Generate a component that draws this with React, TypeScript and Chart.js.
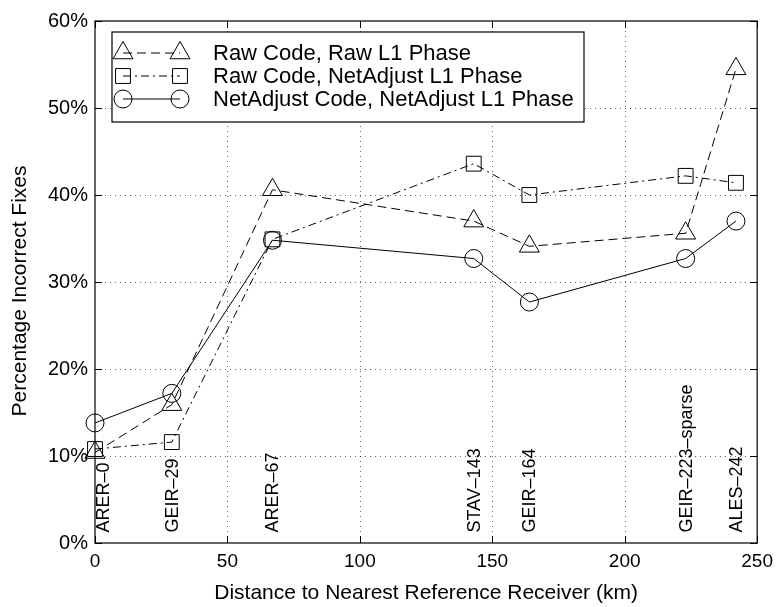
import React, { useEffect, useRef } from "react";
import { Chart, registerables } from "chart.js";
import { drawPoint } from "chart.js/helpers";

Chart.register(...registerables);

// ---- data ----
const distances = [0, 29, 67, 143, 164, 223, 242];
const rawCodeRawPhase = [10.4, 15.9, 40.6, 37.0, 34.1, 35.6, 54.5];
const rawCodeNetPhase = [10.8, 11.6, 34.9, 43.6, 40.0, 42.2, 41.4];
const netCodeNetPhase = [13.8, 17.2, 34.8, 32.7, 27.7, 32.7, 37.0];

const seriesNames = [
  "Raw Code, Raw L1 Phase",
  "Raw Code, NetAdjust L1 Phase",
  "NetAdjust Code, NetAdjust L1 Phase",
];

const stationNames = ["ARER\u20130", "GEIR\u201329", "ARER\u201367", "STAV\u2013143", "GEIR\u2013164", "GEIR\u2013223\u2013sparse", "ALES\u2013242"];
const stationLabelX = [3, 29, 67, 143, 164, 223, 242];
const stationLabelY = 1.2;

const xTicks = [0, 50, 100, 150, 200, 250];
const yTicks = [0, 10, 20, 30, 40, 50, 60];

const xTitle = "Distance to Nearest Reference Receiver (km)";
const yTitle = "Percentage Incorrect Fixes";

const FONT = "'Liberation Sans', Arial, Helvetica, sans-serif";

const styles = [
  { pointStyle: "triangle", radius: 11.5, dash: [9, 5] },
  { pointStyle: "rect", radius: 10.5, dash: [8, 4, 2, 4] },
  { pointStyle: "circle", radius: 9, dash: [] as number[] },
];

const decorPlugin = {
  id: "decor",
  beforeDatasetsDraw(chart: any) {
    const { ctx, chartArea: a, scales } = chart;
    const xs = scales.x;
    const ys = scales.y;
    ctx.save();
    ctx.strokeStyle = "rgba(0,0,0,0.6)";
    ctx.lineWidth = 1;
    ctx.setLineDash([1, 4]);
    for (const v of xTicks) {
      if (v <= xTicks[0] || v >= xTicks[xTicks.length - 1]) continue;
      const px = Math.round(xs.getPixelForValue(v)) + 0.5;
      ctx.beginPath();
      ctx.moveTo(px, a.top);
      ctx.lineTo(px, a.bottom);
      ctx.stroke();
    }
    for (const v of yTicks) {
      if (v <= yTicks[0] || v >= yTicks[yTicks.length - 1]) continue;
      const py = Math.round(ys.getPixelForValue(v)) + 0.5;
      ctx.beginPath();
      ctx.moveTo(a.left, py);
      ctx.lineTo(a.right, py);
      ctx.stroke();
    }
    ctx.restore();
  },
  afterDatasetsDraw(chart: any) {
    const { ctx, chartArea: a, scales } = chart;
    const xs = scales.x;
    const ys = scales.y;
    ctx.save();
    // station labels
    ctx.fillStyle = "#000";
    ctx.font = `18px ${FONT}`;
    ctx.textAlign = "left";
    ctx.textBaseline = "middle";
    stationNames.forEach((name, i) => {
      const px = xs.getPixelForValue(stationLabelX[i]);
      const py = ys.getPixelForValue(stationLabelY);
      ctx.save();
      ctx.translate(px, py);
      ctx.rotate(-Math.PI / 2);
      ctx.fillText(name, 0, 1);
      ctx.restore();
    });

    // y title
    ctx.save();
    ctx.font = `21px ${FONT}`;
    ctx.textAlign = "center";
    ctx.textBaseline = "middle";
    ctx.translate(20, (a.top + a.bottom) / 2 + 9);
    ctx.rotate(-Math.PI / 2);
    ctx.fillText(yTitle, 0, 0);
    ctx.restore();

    // frame
    ctx.strokeStyle = "#000";
    ctx.lineWidth = 1.2;
    ctx.setLineDash([]);
    ctx.strokeRect(a.left, a.top, a.right - a.left, a.bottom - a.top);
    // inward ticks
    const tl = 7;
    ctx.lineWidth = 1;
    for (const v of xTicks) {
      const px = Math.round(xs.getPixelForValue(v)) + 0.5;
      ctx.beginPath();
      ctx.moveTo(px, a.bottom);
      ctx.lineTo(px, a.bottom - tl);
      ctx.moveTo(px, a.top);
      ctx.lineTo(px, a.top + tl);
      ctx.stroke();
    }
    for (const v of yTicks) {
      const py = Math.round(ys.getPixelForValue(v)) + 0.5;
      ctx.beginPath();
      ctx.moveTo(a.left, py);
      ctx.lineTo(a.left + tl, py);
      ctx.moveTo(a.right, py);
      ctx.lineTo(a.right - tl, py);
      ctx.stroke();
    }

    // legend
    const bx = a.left + 17;
    const by = a.top + 11;
    const bw = 472;
    const bh = 90;
    ctx.fillStyle = "#fff";
    ctx.fillRect(bx, by, bw, bh);
    ctx.strokeStyle = "#000";
    ctx.lineWidth = 1.2;
    ctx.strokeRect(bx, by, bw, bh);
    const rowY = [by + 21, by + 44, by + 67];
    const x1 = bx + 11;
    const x2 = bx + 68;
    seriesNames.forEach((name, i) => {
      const st = styles[i];
      const ry = rowY[i];
      ctx.strokeStyle = "#000";
      ctx.lineWidth = 1;
      ctx.setLineDash(st.dash);
      ctx.beginPath();
      ctx.moveTo(x1, ry);
      ctx.lineTo(x2, ry);
      ctx.stroke();
      ctx.setLineDash([]);
      ctx.fillStyle = "rgba(0,0,0,0)";
      for (const mx of [x1, x2]) {
        drawPoint(ctx, { pointStyle: st.pointStyle, radius: st.radius, borderWidth: 1, rotation: 0 } as any, mx, ry);
      }
      ctx.fillStyle = "#000";
      ctx.font = `22px ${FONT}`;
      ctx.textAlign = "left";
      ctx.textBaseline = "middle";
      ctx.fillText(name, bx + 101, ry + 1);
    });
    ctx.restore();
  },
};

export default function App() {
  const ref = useRef<HTMLCanvasElement>(null);
  useEffect(() => {
    if (!ref.current) return;
    const seriesValues = [rawCodeRawPhase, rawCodeNetPhase, netCodeNetPhase];
    const chart = new Chart(ref.current, {
      type: "line",
      data: {
        datasets: seriesValues.map((vals, i) => ({
          label: seriesNames[i],
          data: distances.map((d, j) => ({ x: d, y: vals[j] })),
          borderColor: "#000",
          borderWidth: 1,
          borderDash: styles[i].dash,
          backgroundColor: "rgba(0,0,0,0)",
          pointStyle: styles[i].pointStyle as any,
          pointRadius: styles[i].radius,
          pointBorderWidth: 1,
          pointBorderColor: "#000",
          pointBackgroundColor: "rgba(0,0,0,0)",
          fill: false,
          tension: 0,
          clip: false as any,
        })),
      },
      options: {
        animation: false,
        responsive: false,
        devicePixelRatio: 1,
        layout: { padding: { top: 21, right: 20, left: 0, bottom: 0 } },
        plugins: { legend: { display: false }, tooltip: { enabled: false } },
        scales: {
          x: {
            type: "linear",
            min: 0,
            max: 250,
            afterFit: (s: any) => {
              s.height = 64;
            },
            afterBuildTicks: (s: any) => {
              s.ticks = xTicks.map((v) => ({ value: v }));
            },
            grid: { display: false, drawTicks: false },
            border: { display: false },
            ticks: { color: "#000", font: { family: FONT, size: 19 }, padding: 7, maxRotation: 0 },
            title: {
              display: true,
              text: xTitle,
              color: "#000",
              font: { family: FONT, size: 21 },
              padding: { top: 0, bottom: 1 },
            },
          },
          y: {
            type: "linear",
            min: 0,
            max: 60,
            afterFit: (s: any) => {
              s.width = 95;
            },
            afterBuildTicks: (s: any) => {
              s.ticks = yTicks.map((v) => ({ value: v }));
            },
            grid: { display: false, drawTicks: false },
            border: { display: false },
            ticks: { color: "#000", font: { family: FONT, size: 20 }, padding: 7, callback: (v: any) => `${v}%` },
            title: { display: false },
          },
        },
      },
      plugins: [decorPlugin],
    });
    return () => chart.destroy();
  }, []);
  return (
    <div style={{ position: "fixed", left: 0, top: 0, width: 780, height: 607, background: "#fff" }}>
      <canvas ref={ref} width={780} height={607} style={{ display: "block" }} />
    </div>
  );
}
